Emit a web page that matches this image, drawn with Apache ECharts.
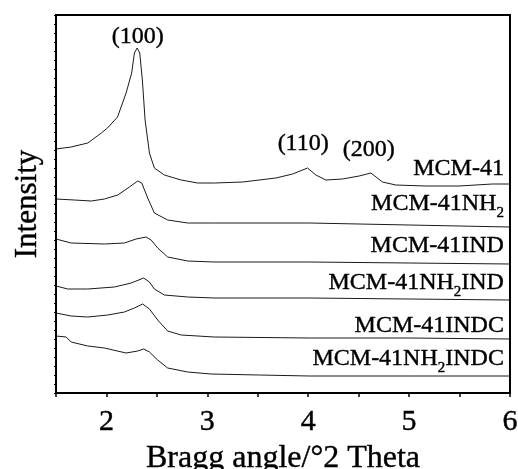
<!doctype html>
<html>
<head>
    <meta charset="utf-8">
    <title>XRD</title>
    <style>
        html, body { margin: 0; padding: 0; background: #fff; }
        #wrap { position: relative; width: 518px; height: 469px; }
        #chartEle { width: 518px; height: 469px; }
        /* plot frame, same box as the grid below */
        #frame {
            position: absolute; left: 55px; top: 14px; width: 456px; height: 380px;
            box-sizing: border-box; border: 2px solid #000; pointer-events: none;
        }
    </style>
</head>
<body>
<div id="wrap">
    <div id="chartEle"></div>
    <div id="frame"></div>
</div>
<script src="https://cdn.jsdelivr.net/npm/echarts@6/dist/echarts.min.js"></script>
<script>
    // 2θ (deg) vs. intensity (a.u., offset stacked)
    var mcm41 = [[1.5,244],[1.65,246],[1.815,250],[1.95,260],[2.01,265],[2.11,276],[2.195,300],[2.25,320],[2.277,340],[2.304,345],[2.33,340],[2.356,313],[2.383,273],[2.426,240],[2.475,225],[2.574,218],[2.74,213],[2.904,210],[3.07,210],[3.35,211],[3.68,215],[3.845,219],[3.993,225],[4.076,218],[4.175,213],[4.34,214],[4.505,217],[4.621,220],[4.736,211],[4.868,208],[5.165,207],[5.495,207],[5.825,209],[6,209]];
    var mcm41NH2 = [[1.5,194],[1.683,193],[1.849,192],[1.98,194],[2.112,198],[2.228,206],[2.31,212],[2.35,210],[2.409,195],[2.475,180],[2.607,173],[2.805,170],[3.069,170],[4.01,170],[5,168],[6,166]];
    var mcm41IND = [[1.5,154],[1.65,150],[1.98,149],[2.178,150],[2.294,154],[2.393,156],[2.443,153],[2.508,145],[2.607,136],[2.805,132],[3.069,131],[4.01,131],[5,130],[6,129]];
    var mcm41NH2IND = [[1.5,107],[1.617,104],[1.815,104],[2.079,106],[2.245,110],[2.369,115],[2.426,111],[2.475,104],[2.574,98],[2.805,96],[3.069,95],[4.01,95],[5,94],[6,93]];
    var mcm41INDC = [[1.5,80],[1.65,77],[1.815,76],[2.013,78],[2.178,81],[2.277,85],[2.359,89],[2.426,84],[2.508,73],[2.607,62],[2.74,58],[3.069,56],[4.01,55],[5,55],[6,54]];
    var mcm41NH2INDC = [[1.5,57],[1.601,56],[1.65,51],[1.815,47],[1.98,45],[2.195,40],[2.31,42],[2.369,44],[2.426,41],[2.508,33],[2.607,25],[2.805,21],[3.037,19],[3.515,18],[4.01,17],[5,17],[6,17]];

    var seriesNames = ['MCM-41', 'MCM-41NH2', 'MCM-41IND', 'MCM-41NH2IND', 'MCM-41INDC', 'MCM-41NH2INDC'];
    var seriesData = [mcm41, mcm41NH2, mcm41IND, mcm41NH2IND, mcm41INDC, mcm41NH2INDC];
    var nameX = 5.94;
    var nameY = [224, 189, 147, 110, 67, 34];

    var hklText = ['(100)', '(110)', '(200)'];
    var hklX = [2.31, 3.95, 4.6];
    var hklY = [356, 249, 243];

    var xTicks = [2, 3, 4, 5, 6];
    var xMin = 1.5, xMax = 6, yMin = 0, yMax = 378;

    var FONT = '"Liberation Serif", "Times New Roman", serif';
    // thicken the glyphs a bit, the source print is heavy
    var INK = {color: '#000', textBorderColor: '#000', textBorderWidth: 0.4};
    var chart = echarts.init(document.getElementById('chartEle'));

    function ink(o) {
        return echarts.util.extend(o, INK);
    }

    function richName(s) {
        return '{m|' + s.replace('NH2', 'NH}{s|2}{m|') + '}';
    }

    var series = seriesData.map(function (d, i) {
        var mp = [{
            coord: [nameX, nameY[i]],
            label: {formatter: richName(seriesNames[i])}
        }];
        if (i === 0) {
            hklText.forEach(function (t, k) {
                mp.push({
                    coord: [hklX[k], hklY[k]],
                    label: {formatter: '{m|' + t + '}', position: 'inside', align: 'center'}
                });
            });
        }
        return {
            name: seriesNames[i],
            type: 'line',
            data: d,
            showSymbol: false,
            lineStyle: {color: '#1a1a1a', width: 1},
            markPoint: {
                symbol: 'circle',
                symbolSize: 0,
                animation: false,
                label: {
                    show: true,
                    position: 'left',
                    distance: 0,
                    color: '#000',
                    fontFamily: FONT,
                    rich: {
                        m: ink({fontSize: 24, fontFamily: FONT, lineHeight: 34}),
                        s: ink({fontSize: 15, fontFamily: FONT, lineHeight: 15, verticalAlign: 'bottom'})
                    }
                },
                data: mp
            }
        };
    });

    chart.setOption({
        animation: false,
        grid: {
            left: 56, right: 8, top: 15, bottom: 76,
            containLabel: false,
            outerBoundsMode: 'none',
            show: true, borderColor: '#000', borderWidth: 2
        },
        xAxis: [{
            type: 'value',
            min: xMin,
            max: xMax,
            interval: 0.5,
            position: 'bottom',
            axisLine: {show: true, onZero: false, lineStyle: {color: '#000', width: 2}},
            axisTick: {inside: false, length: 4, lineStyle: {color: '#000', width: 1.5}},
            axisLabel: ink({
                margin: 14,
                fontSize: 30,
                fontFamily: FONT,
                formatter: function (v) { return xTicks.indexOf(v) >= 0 ? String(v) : ''; }
            }),
            splitLine: {show: false},
            name: 'Bragg angle/°2 Theta',
            nameLocation: 'middle',
            nameGap: 46,
            nameTextStyle: ink({fontSize: 32, fontFamily: FONT})
        }, {
            type: 'value',
            min: xMin,
            max: xMax,
            interval: 0.5,
            position: 'top',
            axisLine: {show: false},
            axisTick: {inside: true, length: 4, lineStyle: {color: '#000', width: 1.5}},
            axisLabel: {show: false},
            splitLine: {show: false}
        }],
        yAxis: {
            type: 'value',
            min: yMin,
            max: yMax,
            interval: 9,
            position: 'left',
            axisLine: {show: true, onZero: false, lineStyle: {color: '#000', width: 2}},
            axisTick: {length: 2, lineStyle: {color: '#000', width: 1}},
            axisLabel: {show: false},
            splitLine: {show: false},
            name: 'Intensity',
            nameLocation: 'middle',
            nameGap: 13,
            nameTextStyle: ink({fontSize: 31, fontFamily: FONT})
        },
        series: series
    });
</script>
</body>
</html>
